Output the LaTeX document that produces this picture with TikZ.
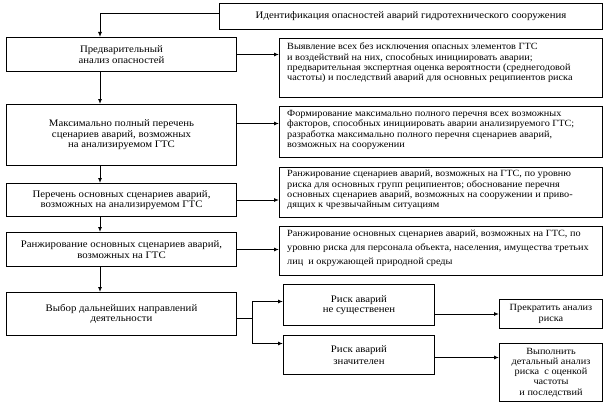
\documentclass[tikz,border=0pt]{standalone}
\usepackage{fontspec}
\setmainfont{Liberation Serif}[FakeStretch=1.08]
\usetikzlibrary{arrows.meta}
\newcommand\myfs{\fontsize{9.5}{10.3}\selectfont}
\newcommand\myfsl{\fontsize{10}{10.5}\selectfont}
\newcommand\myfsw{\fontsize{9.5}{14}\selectfont}
\begin{document}
\begin{tikzpicture}[x=1pt,y=-1pt,
  box/.style={draw, line width=1pt, inner sep=0pt, align=center, font=\myfsl, anchor=north west},
  txt/.style={inner sep=0pt, align=left, anchor=north west, font=\myfs},
  arr/.style={-{Latex[length=5pt,width=4pt]}, line width=0.9pt},
  ln/.style={line width=0.9pt}]
\useasboundingbox[fill=white] (0,0) rectangle (605,404);
% top
\node[box, minimum width=383pt, minimum height=26pt] (top) at (219,3) {Идентификация опасностей аварий гидротехнического сооружения};
% left column
\node[box, minimum width=230pt, minimum height=34pt] (b1) at (6,37) {Предварительный\\анализ опасностей};
\node[box, minimum width=230pt, minimum height=61pt] (b2) at (6,104) {Максимально полный перечень\\сценариев аварий, возможных\\на анализируемом ГТС};
\node[box, minimum width=230pt, minimum height=33pt] (b3) at (6,183) {Перечень основных сценариев аварий,\\возможных на анализируемом ГТС};
\node[box, minimum width=230pt, minimum height=34pt] (b4) at (6,232) {Ранжирование основных сценариев аварий,\\возможных на ГТС};
\node[box, minimum width=230pt, minimum height=43pt] (b5) at (6,292) {Выбор дальнейших направлений\\деятельности};
% right column
\node[box, minimum width=323pt, minimum height=59pt] (r1) at (279,38) {};
\node[txt] (t1) at (287,43) {Выявление всех без исключения опасных элементов ГТС\\и воздействий на них, способных инициировать аварии;\\предварительная экспертная оценка вероятности (среднегодовой\\частоты) и последствий аварий для основных реципиентов риска};
\node[box, minimum width=323pt, minimum height=51pt] (r2) at (279,106) {};
\node[txt] (t2) at (287,110) {Формирование максимально полного перечня всех возможных\\факторов, способных инициировать аварии анализируемого ГТС;\\разработка максимально полного перечня сценариев аварий,\\возможных на сооружении};
\node[box, minimum width=323pt, minimum height=50pt] (r3) at (279,167) {};
\node[txt] (t3) at (287,170) {Ранжирование сценариев аварий, возможных на ГТС, по уровню\\риска для основных групп реципиентов; обоснование перечня\\основных сценариев аварий, возможных на сооружении и приво-\\дящих к чрезвычайным ситуациям};
\node[box, minimum width=323pt, minimum height=49pt] (r4) at (279,226) {};
\node[txt, font=\myfsw] (t4) at (287,230) {Ранжирование основных сценариев аварий, возможных на ГТС, по\\уровню риска для персонала объекта, населения, имущества третьих\\лиц\ \ и окружающей природной среды};
% risk boxes
\node[box, minimum width=151pt, minimum height=41pt] (k1) at (283,284) {Риск аварий\\не существенен};
\node[box, minimum width=151pt, minimum height=39pt, font=\fontsize{10}{12}\selectfont] (k2) at (283,335) {Риск аварий\\значителен};
\node[box, minimum width=103pt, minimum height=29pt, font=\myfs] (f1) at (499,299) {Прекратить анализ\\риска};
\node[box, minimum width=103pt, minimum height=58pt, font=\myfs] (f2) at (499,343) {Выполнить\\детальный анализ\\риска\ \ с оценкой\\частоты\\и последствий};
% helper coordinates
\coordinate (sp) at (100,0);
\coordinate (br) at (252,0);
\coordinate (b2o) at ([yshift=11.5pt]b2.east);
\coordinate (b5o) at ([yshift=-4pt]b5.east);
\coordinate (k1i) at ([yshift=3.5pt]k1.west);
\coordinate (k2i) at ([yshift=11.5pt]k2.west);
\coordinate (k2o) at ([yshift=-2.5pt]k2.east);
% connectors
\draw[arr] ([yshift=3pt]top.west) -| (sp |- b1.north);
\draw[arr] (sp |- b1.south) -- (sp |- b2.north);
\draw[arr] (sp |- b2.south) -- (sp |- b3.north);
\draw[arr] (sp |- b3.south) -- (sp |- b4.north);
\draw[arr] (sp |- b4.south) -- (sp |- b5.north);
\draw[arr] (b1.east) -- (r1.west |- b1.east);
\draw[arr] (b2o) -- (r2.west |- b2o);
\draw[arr] (b3.east) -- (r3.west |- b3.east);
\draw[arr] (b4.east) -- (r4.west |- b4.east);
\draw[ln] (b5o) -- (br |- b5o);
\draw[arr] (br |- b5o) |- (k1i);
\draw[arr] (br |- b5o) |- (k2i);
\draw[arr] (k1.east |- f1.west) -- (f1.west);
\draw[arr] (k2o) -- (f2.west |- k2o);
\end{tikzpicture}
\end{document}
